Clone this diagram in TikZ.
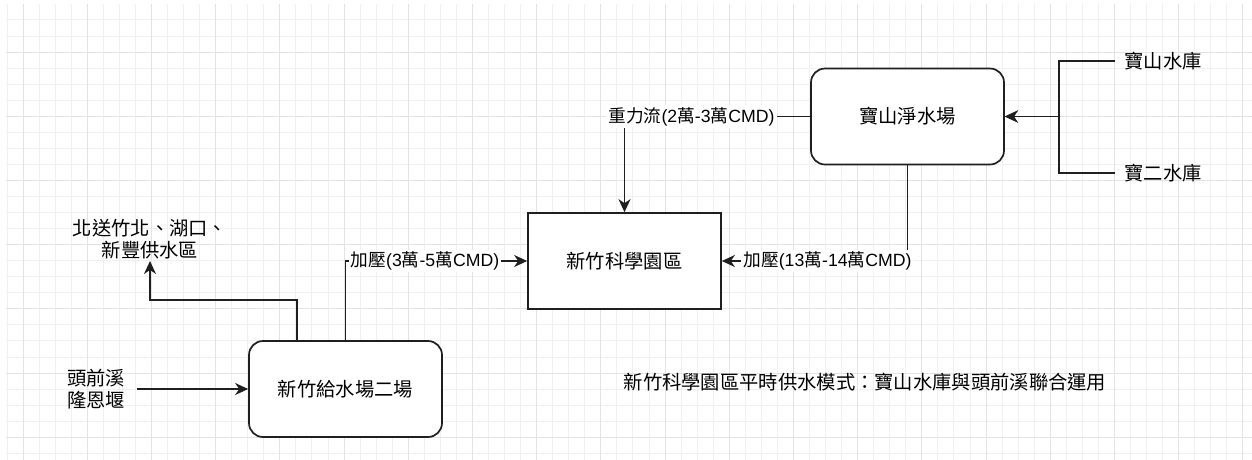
\documentclass[tikz,border=0pt]{standalone}
\usepackage{fontspec}
\setmainfont{Liberation Sans}
\newfontfamily\cjk{Noto Sans CJK TC}
\newcommand\cj[1]{{\cjk #1}}
\usetikzlibrary{arrows.meta,calc}
\begin{document}
\begin{tikzpicture}[x=1pt,y=-1pt,
  minorgrid/.style={draw=black!6, line width=0.9pt},
  majorgrid/.style={draw=black!11, line width=0.9pt},
  conn/.style={draw=black!88, line width=1.7pt},
  arr/.style={conn, -{Stealth[length=13pt,width=12pt,inset=4pt]}},
  box/.style={draw=black!88, line width=1.7pt, fill=white, minimum width=193pt, minimum height=96pt, inner sep=0pt, font=\cjk\fontsize{19.3}{22}\selectfont},
  rbox/.style={box, rounded corners=14pt},
  txt/.style={font=\cjk\fontsize{19.3}{22}\selectfont, align=center, inner ysep=2pt, inner xsep=0pt},
  lbl/.style={fill=white, inner xsep=2pt, inner ysep=2pt, font=\fontsize{17.7}{20}\selectfont}
]
\useasboundingbox (0,0) rectangle (1252,459);
\fill[white] (0,0) rectangle (1252,459);
% grid
\begin{scope}
\clip (6,4) rectangle (1252,459);
\foreach \i in {-1,...,77} \draw[minorgrid] ({23+16.05*\i},0) -- ++(0,460);
\foreach \i in {-3,...,26} \draw[minorgrid] (0,{52+16.05*\i}) -- ++(1260,0);
\foreach \i in {0,...,19} \draw[majorgrid] ({23+64.2*\i},0) -- ++(0,460);
\foreach \i in {-1,...,6} \draw[majorgrid] (0,{52+64.2*\i}) -- ++(1260,0);
\end{scope}

% nodes
\node[box] (park) at (624.5,261) {新竹科學園區};
\node[rbox] (bsj) at (907.5,116.5) {寶山淨水場};
\node[rbox] (p2) at (345.5,389) {新竹給水場二場};
\node[txt, inner xsep=9.4pt] (bsres) at (1163,61) {寶山水庫};
\node[txt, inner xsep=9.4pt] (b2res) at (1163,173) {寶二水庫};
\node[txt, inner xsep=12pt] (tq) at (96,389) {頭前溪\\隆恩堰};
\node[txt, anchor=south] (north) at (150,261) {北送竹北、湖口、\\新豐供水區};
\node[txt] (title) at (865,381.7) {新竹科學園區平時供水模式：寶山水庫與頭前溪聯合運用};

% connectors
\draw[arr] (bsres.west) -- ++(-56,0) |- (bsj.east);
\draw[arr] (b2res.west) -- ++(-56,0) |- (bsj.east);
\draw[arr] (bsj.west) -| (park.north);
\draw[arr] (bsj.south) |- (park.east);
\draw[arr] (p2.north) |- (park.west);
\draw[arr] ($(p2.north west)!0.25!(p2.north east)$) -- ++(0,-40) -| (north.south);
\draw[arr] (tq.east) -- (p2.west);

% labels
\node[lbl] (l1) at (691.5,116.5) {\cj{重力流}(2\cj{萬}-3\cj{萬}CMD)};
\node[lbl] (l2) at (827.5,261) {\cj{加壓}(13\cj{萬}-14\cj{萬}CMD)};
\node[lbl] (l3) at (425,261) {\cj{加壓}(3\cj{萬}-5\cj{萬}CMD)};
\end{tikzpicture}
\end{document}
